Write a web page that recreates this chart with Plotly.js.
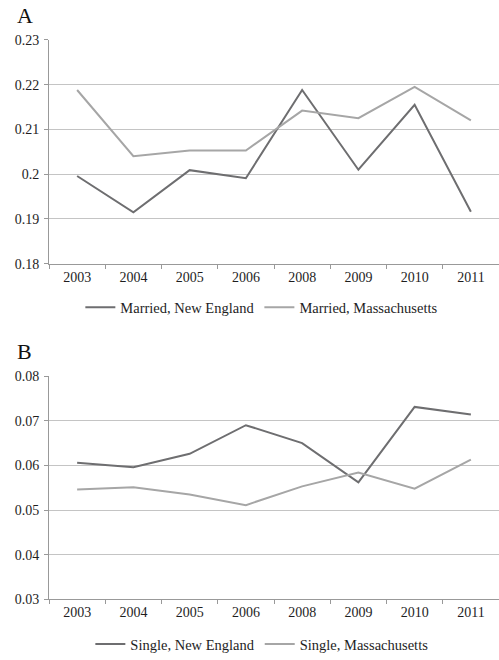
<!DOCTYPE html>
<html><head><meta charset="utf-8">
<script src="https://cdn.plot.ly/plotly-3.0.1.min.js"></script>
<style>html,body{margin:0;padding:0;background:#fff}#chart{width:499px;height:660px}</style>
</head><body><div id="chart"></div>
<script>
const years = ["2003","2004","2005","2006","2008","2009","2010","2011"];
const marriedNE = [0.1996, 0.1915, 0.2009, 0.1991, 0.2188, 0.2010, 0.2155, 0.1916];
const marriedMA = [0.2188, 0.2040, 0.2053, 0.2053, 0.2142, 0.2125, 0.2195, 0.2120];
const singleNE = [0.0606, 0.0596, 0.0626, 0.0690, 0.0650, 0.0562, 0.0731, 0.0714];
const singleMA = [0.0546, 0.0551, 0.0535, 0.0511, 0.0553, 0.0584, 0.0548, 0.0613];

const dark = "#6e6e70", light = "#a6a6a6";
const fam = "Liberation Serif, Times New Roman, serif";
const font = {family: fam, size: 14, color: "#1e1e1e"};
const xfont = {family: fam, size: 14, color: "#1e1e1e"};
const lfont = {family: fam, size: 14.5, color: "#1e1e1e"};

const traces = [
  {x: years, y: marriedNE, name: "Married, New England", type: "scatter", mode: "lines", line: {color: dark, width: 2}, xaxis: "x", yaxis: "y", legend: "legend"},
  {x: years, y: marriedMA, name: "Married, Massachusetts", type: "scatter", mode: "lines", line: {color: light, width: 2}, xaxis: "x", yaxis: "y", legend: "legend"},
  {x: years, y: singleNE, name: "Single, New England", type: "scatter", mode: "lines", line: {color: dark, width: 2}, xaxis: "x2", yaxis: "y2", legend: "legend2"},
  {x: years, y: singleMA, name: "Single, Massachusetts", type: "scatter", mode: "lines", line: {color: light, width: 2}, xaxis: "x2", yaxis: "y2", legend: "legend2"}
];

const xcommon = {type: "category", range: [-0.5, 7.5], showgrid: false, showline: true, linecolor: "#999", linewidth: 1,
  ticks: "outside", tickson: "boundaries", ticklen: 4, tickcolor: "#999", tickfont: xfont,
  zeroline: false, automargin: false, fixedrange: true, domain: [0, 1]};
const ycommon = {showgrid: true, gridcolor: "#c4c4c4", gridwidth: 1, showline: true, linecolor: "#999", linewidth: 1,
  ticks: "outside", ticklen: 4, tickcolor: "#999", tickfont: font, zeroline: false, automargin: false, dtick: 0.01, ticklabelstandoff: 2};

const layout = {
  width: 499, height: 660,
  margin: {l: 49, r: 0, t: 0, b: 0},
  paper_bgcolor: "#fff", plot_bgcolor: "#fff",
  font: font,
  showlegend: true,
  xaxis: Object.assign({}, xcommon, {anchor: "y"}),
  yaxis: Object.assign({}, ycommon, {range: [0.18, 0.23], domain: [1 - 267/660, 1 - 40.3/660], anchor: "x"}),
  xaxis2: Object.assign({}, xcommon, {anchor: "y2"}),
  yaxis2: Object.assign({}, ycommon, {range: [0.03, 0.08], domain: [1 - 606.7/660, 1 - 380.7/660], anchor: "x2"}),
  legend: {orientation: "h", x: 0.473, xanchor: "center", y: 1 - 311/660, yanchor: "middle", font: lfont, itemwidth: 30, tracegroupgap: 0, bgcolor: "rgba(0,0,0,0)"},
  legend2: {orientation: "h", x: 0.473, xanchor: "center", y: 1 - 652/660, yanchor: "middle", font: lfont, itemwidth: 30, tracegroupgap: 0, bgcolor: "rgba(0,0,0,0)"},
  annotations: [
    {text: "A", xref: "paper", yref: "paper", x: -34/450, xanchor: "left", y: 1 - 16/660, yanchor: "middle", showarrow: false, font: {family: fam, size: 22, color: "#111"}},
    {text: "B", xref: "paper", yref: "paper", x: -34/450, xanchor: "left", y: 1 - 356/660, yanchor: "middle", showarrow: false, font: {family: fam, size: 22, color: "#111"}}
  ]
};
Plotly.newPlot("chart", traces, layout, {displayModeBar: false, staticPlot: true});
</script></body></html>
